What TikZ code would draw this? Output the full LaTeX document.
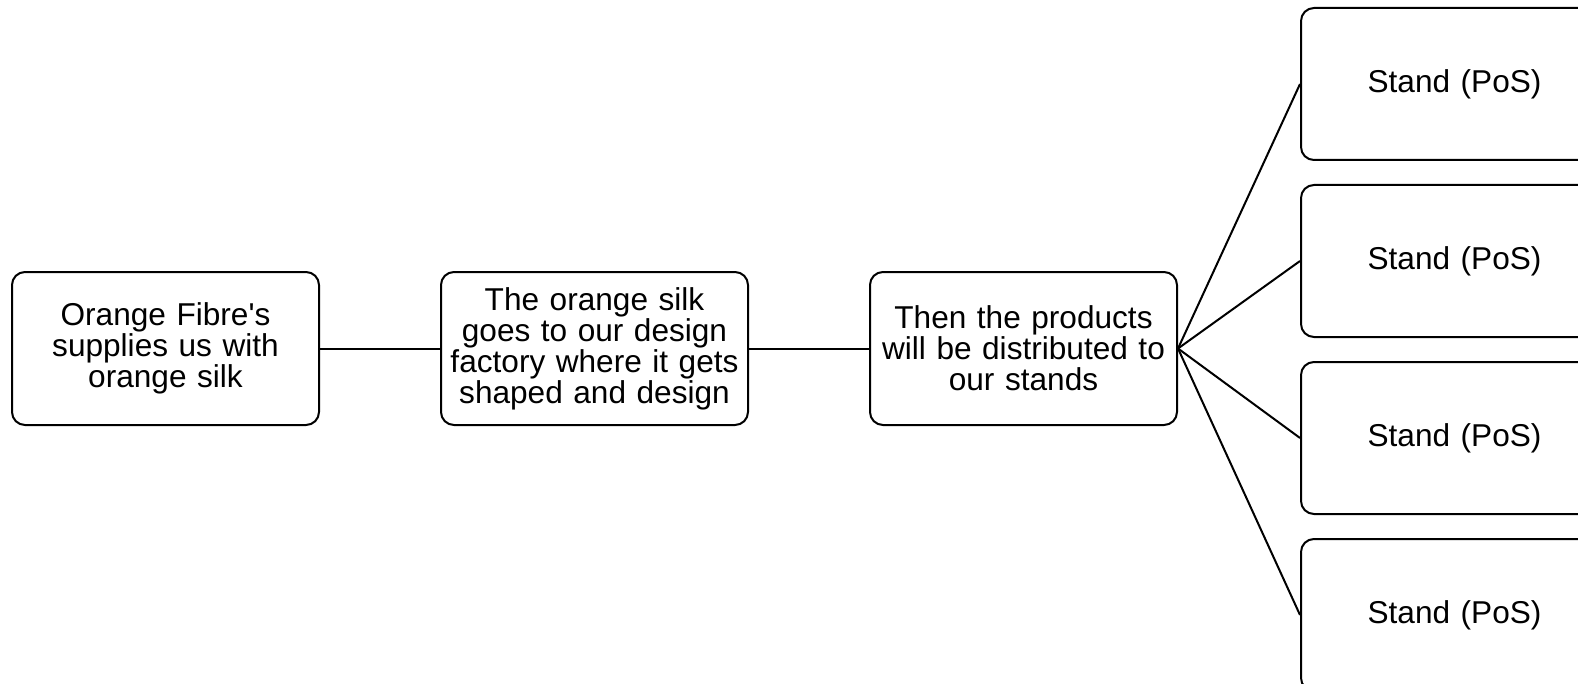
\documentclass[tikz,border=0pt]{standalone}
\usepackage{fontspec}
\setmainfont{Liberation Sans}
\usetikzlibrary{positioning}

\begin{document}
\begin{tikzpicture}[x=0.5pt, y=-0.5pt]
	\tikzstyle{box} = [draw, line width=1pt, rounded corners=6.5pt, minimum width=153.5pt, minimum height=76.5pt, text width=149pt, align=center, inner sep=2pt, font=\fontsize{15.8pt}{15.5pt}\selectfont]
	\tikzstyle{stand} = [box, minimum height=76pt]
	\useasboundingbox (0,0) rectangle (1578,684);
	\path[-, line width=1pt]
	  node[box] (F) at (165.5,348.5) {Orange Fibre\textquotesingle s\\supplies us with\\orange silk}
	  node[box, right=60pt of F] (D) {The orange silk\\goes to our design\\factory where it gets\\shaped and design}
	  node[box, right=60pt of D] (P) {Then the products\\will be distributed to\\our stands}
	  node[stand, right=61pt of P, yshift=43.75pt] (S2) {Stand (PoS)}
	  node[stand, above=11.5pt of S2] (S1) {Stand (PoS)}
	  node[stand, below=11.5pt of S2] (S3) {Stand (PoS)}
	  node[stand, below=11.5pt of S3] (S4) {Stand (PoS)}
	  (F) edge (D)
	  (D) edge (P)
	  (P.east) edge (S1.west)
	  (P.east) edge (S2.west)
	  (P.east) edge (S3.west)
	  (P.east) edge (S4.west)
	  ;
\end{tikzpicture}
\end{document}
